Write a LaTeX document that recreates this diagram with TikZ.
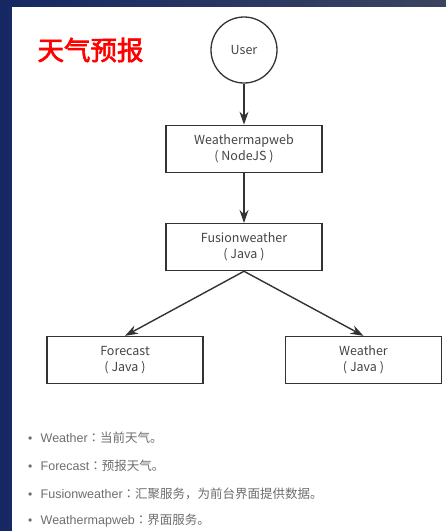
\documentclass[tikz,border=0pt]{standalone}
\usepackage{fontspec}
\setmainfont{Noto Sans CJK SC}
\newfontfamily\cjk[AutoFakeBold=2.5]{Noto Sans CJK SC}
\newfontfamily\cjktc{Noto Sans CJK TC}
\newfontfamily\latin{Liberation Sans}
\usepackage{tikz}
\usetikzlibrary{arrows.meta,calc,positioning,shapes}
\tikzset{
  svcnode/.style = {align=center, inner sep=1pt, draw=my_line, line width=1.3pt, fill=white,
  text=my_text, font=\fontsize{12.5}{16}\selectfont},
  svc_user/.style = {svcnode, circle, minimum size=66pt},
  svc_box/.style = {svcnode, rectangle, minimum width=156pt, minimum height=47pt},
  note/.style = {anchor=west, inner sep=0pt, text=my_gray, font=\fontsize{12.5}{14}\selectfont}
}
\definecolor{my_line}{RGB}{51, 51, 51}
\definecolor{my_text}{RGB}{68, 68, 68}
\definecolor{my_gray}{RGB}{110, 110, 110}
\definecolor{my_red}{RGB}{255, 0, 0}
\definecolor{my_navy}{RGB}{22, 40, 100}
\definecolor{my_slate}{RGB}{58, 68, 96}
\newcommand{\bul}{\makebox[12.5pt][l]{\latin\fontsize{12}{12}\selectfont •}}
\newcommand{\notesep}{{\cjktc ：}}

\begin{document}
\begin{tikzpicture}[x=1pt, y=-1pt, ->, >={Stealth[length=13pt,width=9pt]},
        	conn/.style={draw=my_line, line width=1.4pt}]
    \useasboundingbox (0,0) rectangle (446,531);
    \shade[left color=my_navy, right color=my_slate, draw=none, -] (0,0) rectangle (446,531);
    \fill[white, -] (12,7) rectangle (446,531);
    \node [text=my_red, font=\fontsize{26.5}{26.5}\selectfont\cjk\bfseries] (title) at (90.5,50) {天气预报};
    \node [svc_user] (user) at (244,50) {User};
    \node [svc_box, below=41pt of user] (wmw) {Weathermapweb\\( NodeJS )};
    \node [svc_box, below=50pt of wmw] (fusion) {Fusionweather\\( Java )};
    \node [svc_box] (forecast) at (125,360) {Forecast\\( Java )};
    \node [svc_box] (weather) at (363.5,360) {Weather\\( Java )};
    \draw [conn] (user) -- (wmw);
    \draw [conn] (wmw) -- (fusion);
    \draw [conn] (fusion.south) -- (forecast.north);
    \draw [conn] (fusion.south) -- (weather.north);
    \node [note] (b1) at (28,438) {\bul\latin Weather\notesep\cjk 当前天气。};
    \node [note] (b2) at (28,466) {\bul\latin Forecast\notesep\cjk 预报天气。};
    \node [note] (b3) at (28,494) {\bul\latin Fusionweather\notesep\cjk 汇聚服务，为前台界面提供数据。};
    \node [note] (b4) at (28,521) {\bul\latin Weathermapweb\notesep\cjk 界面服务。};
\end{tikzpicture}
\end{document}
